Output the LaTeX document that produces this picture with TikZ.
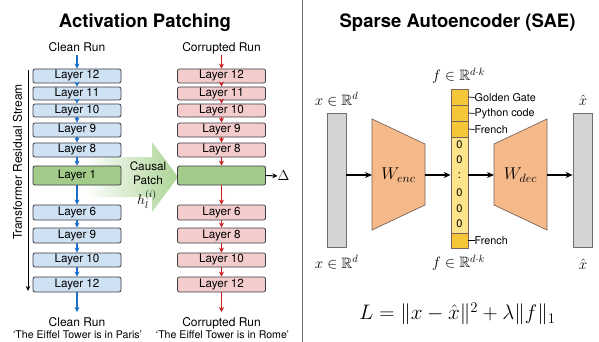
\RequirePackage{fix-cm}
\documentclass[tikz,border=0pt]{standalone}
\usepackage{amssymb}
\usepackage{fontspec}
\setmainfont{TeX Gyre Heros}
\usetikzlibrary{arrows.meta}

\definecolor{bluefill}{RGB}{207,226,243}
\definecolor{redfill}{RGB}{244,204,204}
\definecolor{greenfill}{RGB}{163,204,138}
\definecolor{patchgreen}{RGB}{172,212,150}
\definecolor{boxline}{RGB}{60,60,70}
\definecolor{bluearrow}{RGB}{30,110,200}
\definecolor{redarrow}{RGB}{200,30,30}
\definecolor{orangefill}{RGB}{246,185,138}
\definecolor{orangeline}{RGB}{120,100,90}
\definecolor{yellowdark}{RGB}{245,198,55}
\definecolor{yellowlight}{RGB}{252,228,140}
\definecolor{barfill}{RGB}{212,212,212}
\definecolor{barline}{RGB}{110,110,110}

\tikzset{
  layerbox/.style={draw=boxline, line width=0.8pt, rounded corners=2pt,
    minimum width=88pt, inner sep=0pt, font=\fontsize{11.7}{13}\selectfont},
  cleanbox/.style={layerbox, fill=bluefill},
  corruptbox/.style={layerbox, fill=redfill},
  patchbox/.style={layerbox, fill=greenfill},
  cleanflow/.style={draw=bluearrow, line width=1.2pt, -{Stealth[length=5pt,width=5pt]}},
  corruptflow/.style={draw=redarrow, line width=1.2pt, -{Stealth[length=5pt,width=5pt]}},
  runlabel/.style={font=\fontsize{12}{14}\selectfont, anchor=base},
  promptlabel/.style={font=\fontsize{10.6}{12}\selectfont, anchor=base},
  paneltitle/.style={font=\bfseries\fontsize{18.5}{22}\selectfont, anchor=base},
  patchlabel/.style={inner sep=0pt, font=\fontsize{11.7}{14}\selectfont},
  vecbar/.style={draw=barline, line width=0.8pt, fill=barfill, minimum width=19pt, inner sep=0pt},
  featcell/.style={draw=orangeline, line width=0.7pt, fill=yellowdark, minimum width=17pt, inner sep=0pt},
  featlabel/.style={anchor=west, inner sep=0pt, font=\fontsize{10.8}{12}\selectfont},
  featdigit/.style={inner sep=0pt, font=\fontsize{11}{12}\selectfont},
  mathlabel/.style={font=\fontsize{15}{18}\selectfont},
  weights/.style={draw=orangeline, line width=0.7pt, fill=orangefill},
  flow/.style={line width=1.3pt, -{Stealth[length=7pt,width=6pt]}},
}

\begin{document}
\begin{tikzpicture}[x=1pt, y=-1pt]
\useasboundingbox[fill=white] (0,0) rectangle (599,342);

% ---------------- Activation patching ----------------
\node[paneltitle] (titleL) at (145,27.5) {Activation Patching};

% causal patch arrow, fading in from the left
\shade[left color=white, right color=patchgreen]
  (85,157) -- (152,157) -- (152,142) -- (178,177) -- (152,212) -- (152,197) -- (85,197) -- cycle;
\node[patchlabel] (patch1) at (148,166) {Causal};
\node[patchlabel] (patch2) at (148,180.5) {Patch};
\node[patchlabel, font=\fontsize{14}{16}\selectfont] (patch3) at (147,199.5) {$h_l^{(i)}$};

% residual stream axis
\node[rotate=90, font=\fontsize{12}{14}\selectfont] (stream) at (17.5,162) {Transformer Residual Stream};
\coordinate (axtop) at (28,70);
\coordinate (axbot) at (28,291);
\draw[line width=1pt, -{Stealth[length=5pt,width=4.5pt]}] (axtop) -- (axbot);

% clean run column
\node[runlabel] (cleanT) at (77,51.7) {Clean Run};
\coordinate (cin) at (77,55);
\node[cleanbox, minimum height=14pt] (c1) at (77,76) {Layer 12};
\node[cleanbox, minimum height=13pt] (c2) at (77,93.5) {Layer 11};
\node[cleanbox, minimum height=13pt] (c3) at (77,110.5) {Layer 10};
\node[cleanbox, minimum height=14pt] (c4) at (77,130) {Layer 9};
\node[cleanbox, minimum height=14pt] (c5) at (77,150) {Layer 8};
\node[patchbox, minimum height=19pt] (c6) at (77,175.5) {Layer 1};
\node[cleanbox, minimum height=15pt] (c7) at (77,212.5) {Layer 6};
\node[cleanbox, minimum height=15pt] (c8) at (77,235.5) {Layer 9};
\node[cleanbox, minimum height=14pt] (c9) at (77,260) {Layer 10};
\node[cleanbox, minimum height=15pt] (c10) at (77,284.5) {Layer 12};
\coordinate (cout) at (77,312);
\node[runlabel] (cleanB) at (77,326) {Clean Run};
\node[promptlabel] (cleanP) at (77.5,338) {‘The Eiffel Tower is in Paris’};

\draw[cleanflow] (cin) -- (c1);
\foreach \a/\b in {c1/c2,c2/c3,c3/c4,c4/c5,c5/c6,c6/c7,c7/c8,c8/c9,c9/c10}
  \draw[cleanflow] (\a) -- (\b);
\draw[cleanflow] (c10) -- (cout);

% corrupted run column
\node[runlabel] (corrT) at (221.5,51.7) {Corrupted Run};
\coordinate (rin) at (221.5,55);
\node[corruptbox, minimum height=14pt] (r1) at (221.5,76) {Layer 12};
\node[corruptbox, minimum height=13pt] (r2) at (221.5,93.5) {Layer 11};
\node[corruptbox, minimum height=13pt] (r3) at (221.5,110.5) {Layer 10};
\node[corruptbox, minimum height=14pt] (r4) at (221.5,130) {Layer 9};
\node[corruptbox, minimum height=14pt] (r5) at (221.5,150) {Layer 8};
\node[patchbox, minimum height=19pt] (r6) at (221.5,175.5) {};
\node[corruptbox, minimum height=15pt] (r7) at (221.5,212.5) {Layer 6};
\node[corruptbox, minimum height=15pt] (r8) at (221.5,235.5) {Layer 8};
\node[corruptbox, minimum height=14pt] (r9) at (221.5,260) {Layer 10};
\node[corruptbox, minimum height=15pt] (r10) at (221.5,284.5) {Layer 12};
\coordinate (rout) at (221.5,312);
\node[runlabel] (corrB) at (221.5,326) {Corrupted Run};
\node[promptlabel] (corrP) at (222.5,338) {‘The Eiffel Tower is in Rome’};

\draw[corruptflow] (rin) -- (r1);
\foreach \a/\b in {r1/r2,r2/r3,r3/r4,r4/r5,r5/r6,r6/r7,r7/r8,r8/r9,r9/r10}
  \draw[corruptflow] (\a) -- (\b);
\draw[corruptflow] (r10) -- (rout);

% output difference
\node[font=\fontsize{14.5}{16}\selectfont, inner sep=0pt] (delta) at (283.5,176) {$\Delta$};
\draw[line width=1pt, -{Stealth[length=5pt,width=5pt]}] (r6.east) -- (delta.west);

% panel divider
\draw[line width=0.8pt, black!55] (302.5,0) -- (302.5,342);

% ---------------- Sparse autoencoder ----------------
\node[paneltitle] (titleR) at (457.5,27.5) {Sparse Autoencoder (SAE)};

% input and reconstruction vectors
\node[vecbar, minimum height=134pt] (xin) at (336.5,180) {};
\node[vecbar, minimum height=134pt] (xout) at (582.5,180) {};
\node[mathlabel] (xinT) at (336.5,99) {$x \in \mathbb{R}^d$};
\node[mathlabel] (xinB) at (336.5,262) {$x \in \mathbb{R}^d$};
\node[mathlabel] (xoutT) at (583,100) {$\hat{x}$};
\node[mathlabel] (xoutB) at (583,264) {$\hat{x}$};

% encoder and decoder weights
\draw[weights] (372,119) -- (425,144) -- (425,205) -- (372,230) -- cycle;
\draw[weights] (494,144) -- (547,119) -- (547,230) -- (494,205) -- cycle;
\node[font=\fontsize{17}{20}\selectfont] (wenc) at (398.5,175) {$W_{enc}$};
\node[font=\fontsize{17}{20}\selectfont] (wdec) at (520.5,175) {$W_{dec}$};
\coordinate (encL) at (372,175);
\coordinate (encR) at (425,175);
\coordinate (decL) at (494,175);
\coordinate (decR) at (547,175);

% sparse feature vector
\node[featcell, minimum height=16pt] (f1) at (459.5,97) {};
\node[featcell, minimum height=16pt] (f2) at (459.5,113) {};
\node[featcell, minimum height=16pt] (f3) at (459.5,129) {};
\node[featcell, fill=yellowlight, minimum height=96pt] (fz) at (459.5,185) {};
\node[featcell, minimum height=15pt] (f4) at (459.5,240.5) {};
\node[featdigit] (d1) at (459.5,144.5) {0};
\node[featdigit] (d2) at (459.5,159.5) {0};
\node[featdigit] (d3) at (459.5,176) {:};
\node[featdigit] (d4) at (459.5,193) {0};
\node[featdigit] (d5) at (459.5,208.5) {0};
\node[featdigit] (d6) at (459.5,224) {0};
\node[mathlabel] (fT) at (458.5,76) {$f \in \mathbb{R}^{d\cdot k}$};
\node[mathlabel] (fB) at (458.5,263) {$f \in \mathbb{R}^{d\cdot k}$};

% feature names
\node[featlabel] (n1) at (474.5,97.5) {Golden Gate};
\node[featlabel] (n2) at (474.5,113.5) {Python code};
\node[featlabel] (n3) at (474.5,129.5) {French};
\node[featlabel] (n4) at (474.5,240.5) {French};
\foreach \c/\n in {f1/n1,f2/n2,f3/n3,f4/n4}
  \draw[line width=0.7pt] (\c.east) -- (\n.west);

% data flow
\draw[flow] (xin.east |- encL) -- (encL);
\draw[flow] (encR) -- (fz.west |- encR);
\draw[flow] (fz.east |- decL) -- (decL);
\draw[flow] (decR) -- (xout.west |- decR);

% training objective
\node[font=\fontsize{21}{25}\selectfont] (loss) at (457.5,314) {$L = \|x - \hat{x}\|^2 + \lambda\|f\|_1$};
\end{tikzpicture}
\end{document}
